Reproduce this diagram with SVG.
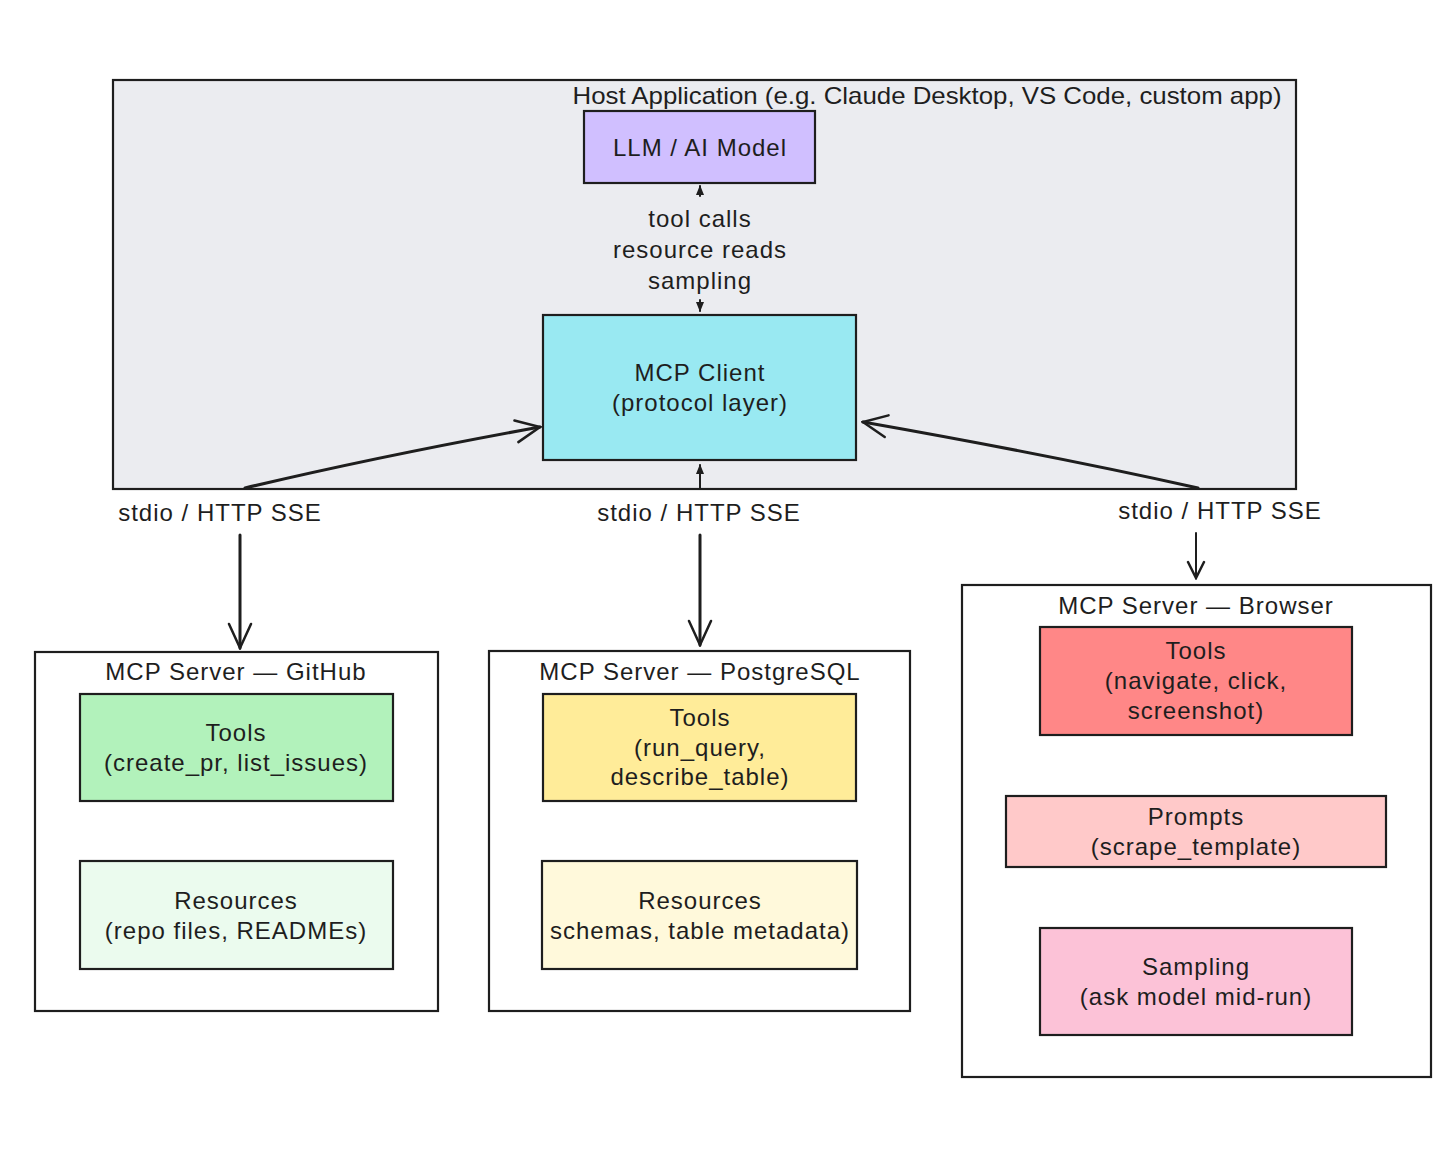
<svg xmlns="http://www.w3.org/2000/svg" width="1456" height="1159" viewBox="0 0 1456 1159">
<defs>
<style>
text{font-family:"Liberation Sans","DejaVu Sans",sans-serif;fill:#1e1e1e;text-anchor:middle;dominant-baseline:central;font-size:24px;letter-spacing:1px}
.box{stroke:#1e1e1e;stroke-width:2.2}
.edge{fill:none;stroke:#1e1e1e;stroke-width:3;stroke-linecap:round}
.thin{fill:none;stroke:#1e1e1e;stroke-width:2;stroke-linecap:round}
</style>
<marker id="open" viewBox="0 0 20 20" refX="18" refY="10" markerWidth="20" markerHeight="20" markerUnits="userSpaceOnUse" orient="auto">
<path d="M2,2 L18,10 L2,18" fill="none" stroke="#1e1e1e" stroke-width="2.5" stroke-linecap="round"/>
</marker>
<marker id="openbig" viewBox="0 0 30 30" refX="28" refY="15" markerWidth="30" markerHeight="30" markerUnits="userSpaceOnUse" orient="auto">
<path d="M4,4 L28,15 L4,26" fill="none" stroke="#1e1e1e" stroke-width="2.5" stroke-linecap="round"/>
</marker>
<marker id="tri" viewBox="0 0 10 10" refX="9" refY="5" markerWidth="10" markerHeight="10" markerUnits="userSpaceOnUse" orient="auto">
<path d="M0,1 L10,5 L0,9 Z" fill="#1e1e1e"/>
</marker>
</defs>
<rect width="1456" height="1159" fill="#ffffff"/>

<g id="host">
<rect class="box" x="113" y="80" width="1183" height="409" fill="#ebecf0"/>
<text x="927" y="95" textLength="709" lengthAdjust="spacingAndGlyphs" style="letter-spacing:0">Host Application (e.g. Claude Desktop, VS Code, custom app)</text>
</g>

<g id="llm">
<rect class="box" x="584" y="111" width="231" height="72" fill="#d0bfff"/>
<text x="700" y="147">LLM / AI Model</text>
</g>

<g id="client">
<rect class="box" x="543" y="315" width="313" height="145" fill="#99e9f2"/>
<text x="700" y="372">MCP Client</text>
<text x="700" y="402">(protocol layer)</text>
</g>

<g id="server-github">
<rect class="box" x="35" y="652" width="403" height="359" fill="#ffffff"/>
<text x="236" y="671">MCP Server — GitHub</text>
<g id="github-tools">
<rect class="box" x="80" y="694" width="313" height="107" fill="#b2f2bb"/>
<text x="236" y="732">Tools</text>
<text x="236" y="762">(create_pr, list_issues)</text>
</g>
<g id="github-resources">
<rect class="box" x="80" y="861" width="313" height="108" fill="#ebfbee"/>
<text x="236" y="900">Resources</text>
<text x="236" y="930">(repo files, READMEs)</text>
</g>
</g>

<g id="server-postgres">
<rect class="box" x="489" y="651" width="421" height="360" fill="#ffffff"/>
<text x="700" y="671">MCP Server — PostgreSQL</text>
<g id="pg-tools">
<rect class="box" x="543" y="694" width="313" height="107" fill="#ffec99"/>
<text x="700" y="717">Tools</text>
<text x="700" y="747">(run_query,</text>
<text x="700" y="776">describe_table)</text>
</g>
<g id="pg-resources">
<rect class="box" x="542" y="861" width="315" height="108" fill="#fff9db"/>
<text x="700" y="900">Resources</text>
<text x="700" y="930">schemas, table metadata)</text>
</g>
</g>

<g id="server-browser">
<rect class="box" x="962" y="585" width="469" height="492" fill="#ffffff"/>
<text x="1196" y="605">MCP Server — Browser</text>
<g id="br-tools">
<rect class="box" x="1040" y="627" width="312" height="108" fill="#ff8787"/>
<text x="1196" y="650">Tools</text>
<text x="1196" y="680">(navigate, click,</text>
<text x="1196" y="710">screenshot)</text>
</g>
<g id="br-prompts">
<rect class="box" x="1006" y="796" width="380" height="71" fill="#ffc9c9"/>
<text x="1196" y="816">Prompts</text>
<text x="1196" y="846">(scrape_template)</text>
</g>
<g id="br-sampling">
<rect class="box" x="1040" y="928" width="312" height="107" fill="#fcc2d7"/>
<text x="1196" y="966">Sampling</text>
<text x="1196" y="996">(ask model mid-run)</text>
</g>
</g>

<g id="connectors">
<line class="thin" x1="700" y1="196" x2="700" y2="186" marker-end="url(#tri)"/>
<line class="thin" x1="700" y1="300" x2="700" y2="311" marker-end="url(#tri)"/>
<text x="700" y="218">tool calls</text>
<text x="700" y="249">resource reads</text>
<text x="700" y="280">sampling</text>

<path class="edge" d="M245,488 Q380,456 540,427" marker-end="url(#openbig)"/>
<path class="edge" d="M1198,488 Q1050,455 863,422" marker-end="url(#openbig)"/>
<line class="thin" x1="700" y1="488" x2="700" y2="465" marker-end="url(#tri)"/>

<text x="220" y="512">stdio / HTTP SSE</text>
<text x="699" y="512">stdio / HTTP SSE</text>
<text x="1220" y="510">stdio / HTTP SSE</text>

<line class="edge" x1="240" y1="535" x2="240" y2="648" marker-end="url(#openbig)"/>
<line class="edge" x1="700" y1="535" x2="700" y2="645" marker-end="url(#openbig)"/>
<line class="thin" x1="1196" y1="533" x2="1196" y2="578" marker-end="url(#open)"/>
</g>
</svg>
